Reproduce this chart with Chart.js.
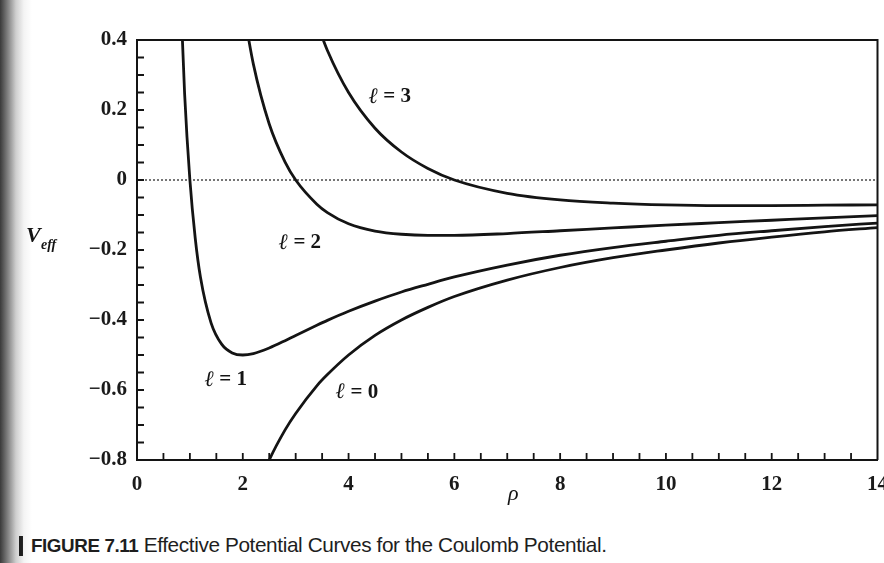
<!DOCTYPE html>
<html><head><meta charset="utf-8">
<script src="https://cdn.jsdelivr.net/npm/chart.js@4/dist/chart.umd.min.js"></script>
<style>
html,body{margin:0;padding:0;width:884px;height:563px;overflow:hidden;}
body{position:relative;background:linear-gradient(to right,#3a3a3a 0px,#7a7a7a 7px,#cfcfcf 16px,#f4f4f4 24px,#fff 32px);}
#wrap{position:absolute;left:0;top:0;width:900px;height:520px;}
#cap{position:absolute;left:19px;top:533px;font-family:'Liberation Sans',sans-serif;font-size:21px;color:#1e1e1e;white-space:nowrap;letter-spacing:-0.4px;transform:scaleX(0.99);transform-origin:0 0;}
#cap .bar{display:inline-block;width:4px;height:20px;background:#1e1e1e;vertical-align:-4px;margin-right:8px;}
#cap b{font-weight:bold;font-size:19px;}
</style></head>
<body>
<div id="wrap"><canvas id="c" width="900" height="520"></canvas></div>
<div id="cap"><span class="bar"></span><b>FIGURE 7.11</b> Effective Potential Curves for the Coulomb Potential.</div>
<script>
// radial coordinate rho
const rho = [0.8, 0.9, 1.0, 1.1, 1.2, 1.4, 1.6, 1.8, 2.0, 2.2, 2.5, 2.8, 3.0, 3.4, 3.6, 4.0, 4.5, 5.0, 5.5, 6.0, 7.0, 8.0, 9.0, 10, 11, 12, 13, 14];
const vL0 = [null, null, null, null, null, null, null, null, null, -0.909, -0.80, -0.714, -0.667, -0.588, -0.556, -0.50, -0.444, -0.40, -0.364, -0.333, -0.286, -0.25, -0.222, -0.20, -0.18, -0.163, -0.148, -0.136];
const vL1 = [0.625, 0.247, 0.0, -0.165, -0.278, -0.408, -0.469, -0.494, -0.50, -0.496, -0.48, -0.459, -0.444, -0.415, -0.401, -0.375, -0.346, -0.32, -0.298, -0.277, -0.243, -0.215, -0.193, -0.175, -0.158, -0.145, -0.133, -0.123];
const vL2 = [null, null, null, null, null, null, null, null, 0.5, 0.331, 0.16, 0.051, 0.0, -0.069, -0.093, -0.125, -0.146, -0.155, -0.158, -0.158, -0.153, -0.145, -0.137, -0.129, -0.122, -0.115, -0.108, -0.102];
const vL3 = [null, null, null, null, null, null, null, null, null, null, null, null, null, 0.45, 0.37, 0.25, 0.148, 0.08, 0.033, 0.0, -0.038, -0.057, -0.066, -0.071, -0.073, -0.073, -0.072, -0.071];
const curveNames = ['ℓ = 0', 'ℓ = 1', 'ℓ = 2', 'ℓ = 3'];
// label anchors in data units (rho, V)
const labelRho = [4.16, 1.68, 3.08, 4.78];
const labelV = [-0.606, -0.571, -0.18, 0.237];
const xTicks = [0, 2, 4, 6, 8, 10, 12, 14];
const yTicks = [-0.8, -0.6, -0.4, -0.2, 0, 0.2, 0.4];

const series = [vL0, vL1, vL2, vL3];
const datasets = series.map((vals, i) => ({
  label: curveNames[i],
  data: rho.map((r, k) => ({x: r, y: vals[k]})).filter(p => p.y !== null),
  showLine: true,
  borderColor: '#141414',
  borderWidth: 2.8,
  pointRadius: 0,
  cubicInterpolationMode: 'monotone',
  fill: false
}));

const fmtY = v => {
  const r = Math.round(v * 10) / 10;
  if (Math.abs(r) < 1e-9) return '0';
  return (r < 0 ? '\u2212' : '') + Math.abs(r).toFixed(1);
};

const deco = {
  id: 'deco',
  beforeDatasetsDraw(chart) {
    const {ctx, chartArea: a, scales: {x, y}} = chart;
    const y0 = y.getPixelForValue(0);
    ctx.save();
    ctx.strokeStyle = '#555';
    ctx.lineWidth = 1.6;
    ctx.setLineDash([2, 2]);
    ctx.beginPath();
    ctx.moveTo(a.left, y0);
    ctx.lineTo(a.right, y0);
    ctx.stroke();
    ctx.restore();
  },
  afterDraw(chart) {
    const {ctx, chartArea: a, scales: {x, y}} = chart;
    ctx.save();
    ctx.strokeStyle = '#141414';
    ctx.lineWidth = 2;
    // top and right frame
    ctx.beginPath();
    ctx.moveTo(a.left, a.top);
    ctx.lineTo(a.right, a.top);
    ctx.lineTo(a.right, a.bottom);
    ctx.stroke();
    // inward ticks
    ctx.lineWidth = 1.8;
    ctx.beginPath();
    for (let k = 1; k < 28; k++) {
      const px = x.getPixelForValue(k * 0.5);
      ctx.moveTo(px, a.bottom);
      ctx.lineTo(px, a.bottom - 7);
    }
    for (let k = 1; k < 24; k++) {
      const py = y.getPixelForValue(-0.8 + k * 0.05);
      ctx.moveTo(a.left, py);
      ctx.lineTo(a.left + 7, py);
    }
    ctx.stroke();
    // curve labels
    ctx.fillStyle = '#141414';
    ctx.textBaseline = 'middle';
    for (let i = 0; i < curveNames.length; i++) {
      const px = x.getPixelForValue(labelRho[i]);
      const py = y.getPixelForValue(labelV[i]);
      ctx.font = 'italic bold 22px "Liberation Serif", serif';
      const lw = ctx.measureText('ℓ').width;
      ctx.font = 'bold 21px "Liberation Serif", serif';
      const rest = ' = ' + curveNames[i].split('= ')[1];
      const rw = ctx.measureText(rest).width;
      const start = px - (lw + rw) / 2;
      ctx.textAlign = 'left';
      ctx.font = 'italic bold 22px "Liberation Serif", serif';
      ctx.fillText('ℓ', start, py);
      ctx.font = 'bold 21px "Liberation Serif", serif';
      ctx.fillText(rest, start + lw, py);
    }
    // axis titles
    ctx.textAlign = 'left';
    ctx.font = 'italic bold 22px "Liberation Serif", serif';
    ctx.fillText('V', 26, 236);
    ctx.font = 'italic bold 14px "Liberation Serif", serif';
    ctx.fillText('eff', 41, 245);
    ctx.textAlign = 'center';
    ctx.font = 'italic 22px "Liberation Serif", serif';
    ctx.fillText('ρ', (a.left + a.right) / 2 + 6, 494);
    ctx.restore();
  }
};

new Chart(document.getElementById('c'), {
  type: 'scatter',
  data: {datasets},
  options: {
    responsive: false,
    animation: false,
    devicePixelRatio: 1,
    layout: {padding: {top: 40, left: 0, right: 13, bottom: 0}},
    plugins: {legend: {display: false}, tooltip: {enabled: false}, title: {display: false}},
    scales: {
      x: {
        type: 'linear', min: 0, max: 14,
        afterBuildTicks: s => { s.ticks = xTicks.map(v => ({value: v})); },
        afterFit: s => { s.height = 60; },
        grid: {display: false, drawTicks: false},
        border: {display: true, color: '#141414', width: 2},
        ticks: {color: '#1a1a1a', padding: 12, font: {family: '"Liberation Serif", serif', size: 21, weight: 'bold'}, callback: v => String(v), maxRotation: 0}
      },
      y: {
        type: 'linear', min: -0.8, max: 0.4,
        afterBuildTicks: s => { s.ticks = yTicks.map(v => ({value: v})); },
        afterFit: s => { s.width = 137; },
        grid: {display: false, drawTicks: false},
        border: {display: true, color: '#141414', width: 2},
        ticks: {color: '#1a1a1a', padding: 10, font: {family: '"Liberation Serif", serif', size: 21, weight: 'bold'}, callback: fmtY}
      }
    }
  },
  plugins: [deco]
});
</script>
</body></html>
